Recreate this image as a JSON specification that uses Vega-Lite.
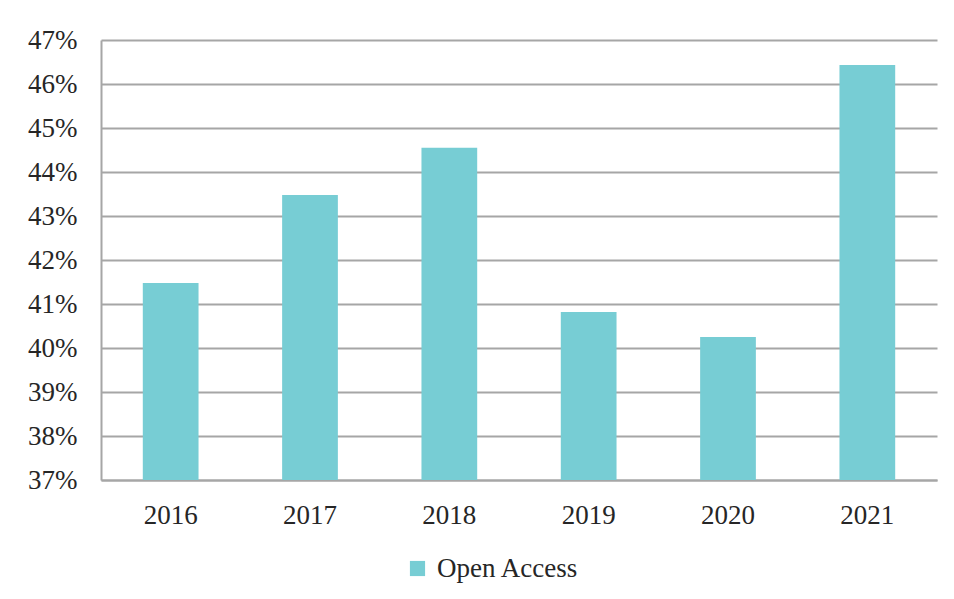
{
  "$schema": "https://vega.github.io/schema/vega-lite/v6.json",
  "width": 836,
  "height": 440,
  "autosize": {"type": "none"},
  "padding": {"left": 101, "top": 40, "right": 17, "bottom": 119},
  "background": "white",
  "data": {
    "values": [
      {"year": "2016", "share": 0.4148, "series": "Open Access"},
      {"year": "2017", "share": 0.4348, "series": "Open Access"},
      {"year": "2018", "share": 0.4455, "series": "Open Access"},
      {"year": "2019", "share": 0.4082, "series": "Open Access"},
      {"year": "2020", "share": 0.4025, "series": "Open Access"},
      {"year": "2021", "share": 0.4643, "series": "Open Access"}
    ]
  },
  "mark": {"type": "bar", "clip": true},
  "encoding": {
    "x": {
      "field": "year",
      "type": "nominal",
      "scale": {"paddingInner": 0.6, "paddingOuter": 0.3},
      "axis": {
        "title": null,
        "labelAngle": 0,
        "labelFont": "Liberation Serif",
        "labelFontSize": 27,
        "labelColor": "#262626",
        "labelPadding": 22,
        "ticks": false,
        "domainColor": "#a6a6a6",
        "domainWidth": 2
      }
    },
    "y": {
      "field": "share",
      "type": "quantitative",
      "scale": {"domain": [0.37, 0.47], "nice": false, "zero": false},
      "axis": {
        "title": null,
        "format": ".0%",
        "values": [0.37, 0.38, 0.39, 0.40, 0.41, 0.42, 0.43, 0.44, 0.45, 0.46, 0.47],
        "labelFont": "Liberation Serif",
        "labelFontSize": 27,
        "labelColor": "#262626",
        "labelPadding": 24,
        "ticks": false,
        "grid": true,
        "gridColor": "#a6a6a6",
        "gridWidth": 2,
        "domainColor": "#a6a6a6",
        "domainWidth": 2
      }
    },
    "color": {
      "field": "series",
      "type": "nominal",
      "scale": {"range": ["#77CDD4"]},
      "legend": {
        "title": null,
        "orient": "none",
        "legendX": 303,
        "legendY": 515,
        "symbolType": "square",
        "symbolSize": 230,
        "symbolStrokeWidth": 0,
        "labelFont": "Liberation Serif",
        "labelFontSize": 27,
        "labelColor": "#262626",
        "labelOffset": 6
      }
    }
  },
  "config": {"view": {"stroke": null}}
}
